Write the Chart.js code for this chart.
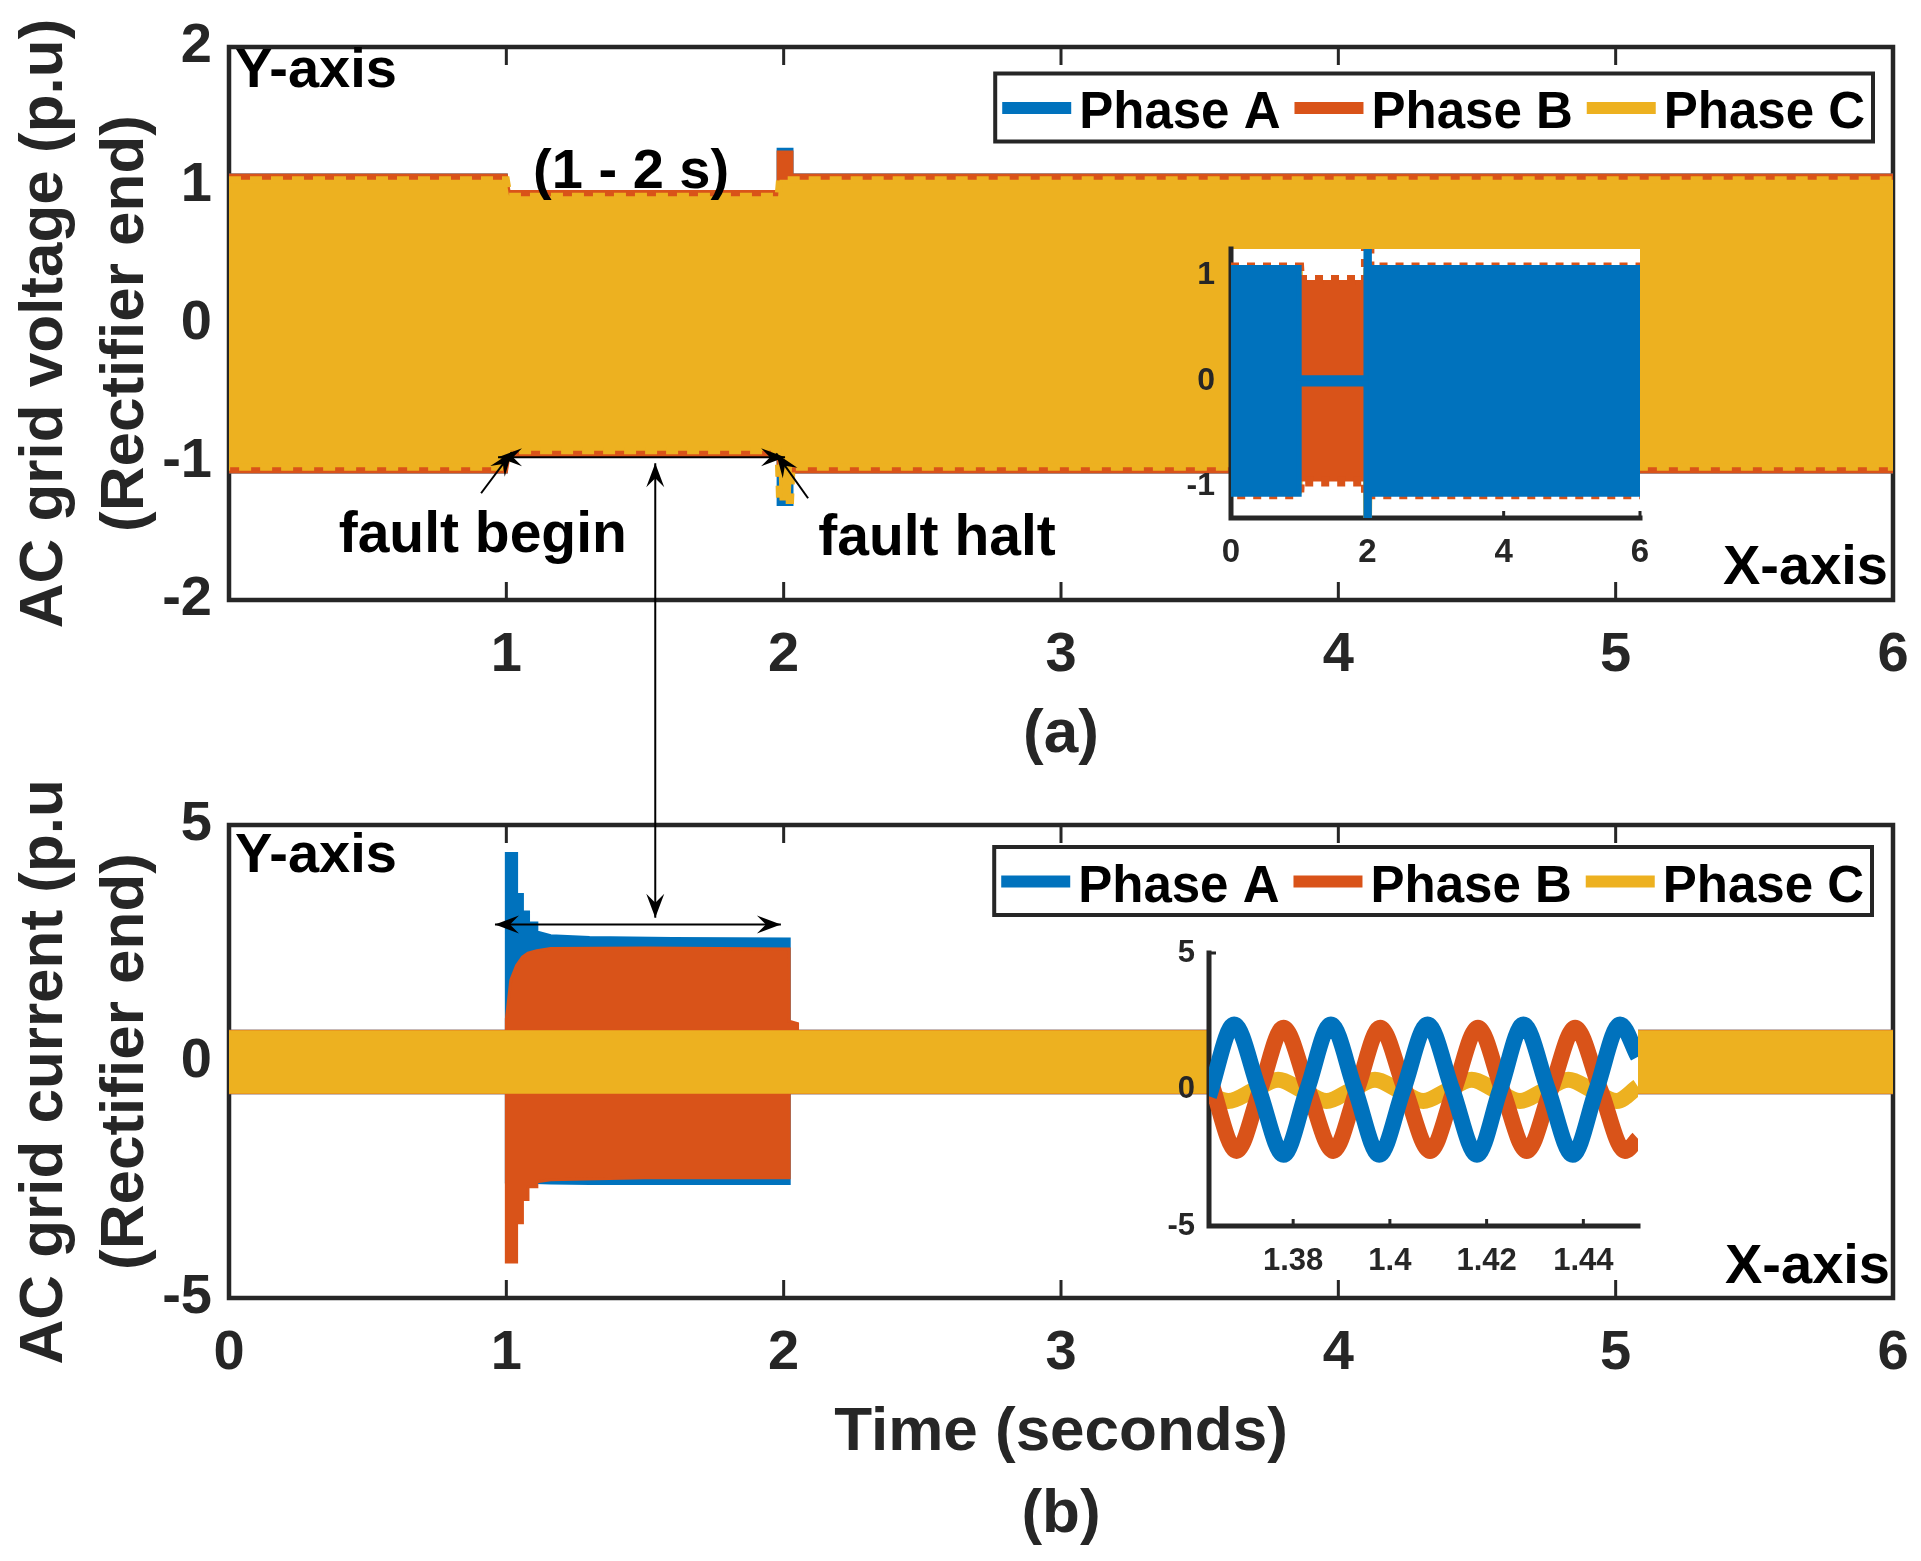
<!DOCTYPE html>
<html>
<head>
<meta charset="utf-8">
<title>AC grid voltage and current (rectifier end)</title>
<script src="https://cdn.jsdelivr.net/npm/chart.js@4.4.1/dist/chart.umd.min.js"></script>
<style>
  html, body { margin: 0; padding: 0; background: #fff; }
  #page { position: relative; width: 1921px; height: 1561px; overflow: hidden; background: #fff; }
  #page canvas { position: absolute; display: block; }
</style>
</head>
<body>
<div id="page">
  <canvas id="volt" width="1921" height="780" style="left:0;top:0"></canvas>
  <canvas id="curr" width="1921" height="781" style="left:0;top:780px"></canvas>
  <canvas id="voltInset" width="600" height="400" style="left:1100px;top:200px"></canvas>
  <canvas id="currInset" width="600" height="420" style="left:1100px;top:900px"></canvas>
</div>
<script>
const phaseNames = ["Phase A", "Phase B", "Phase C"];
const phaseColors = ["#0072BD", "#D95319", "#EDB120"];

// (a) voltage, p.u. : upper / lower edge of each 50 Hz band
const voltTimeA = [0, 1.0, 1.0, 1.98, 1.98, 2.03, 2.03, 6];
const voltUpA   = [1.075, 1.075, 0.03, 0.03, 1.26, 1.26, 1.075, 1.075];
const voltLowA  = [-1.075, -1.075, -0.03, -0.03, -1.31, -1.31, -1.075, -1.075];
const voltTimeB = [0, 1.0, 1.01, 1.98, 1.98, 2.03, 2.03, 6];
const voltUpB   = [1.075, 1.075, 0.955, 0.955, 1.24, 1.24, 1.075, 1.075];
const voltLowB  = [-1.075, -1.075, -0.955, -0.955, -1.1, -1.1, -1.075, -1.075];
const voltTimeC = [0, 1.0, 1.01, 1.98, 1.985, 2.025, 2.03, 6];
const voltUpC   = [1.04, 1.04, 0.92, 0.92, 1.04, 1.04, 1.04, 1.04];
const voltLowC  = [-1.04, -1.04, -0.92, -0.92, -1.28, -1.28, -1.04, -1.04];

// (b) current, p.u. : upper / lower edge of each band
const currTimeA = [0, 1.0, 1.0, 1.037, 1.037, 1.058, 1.058, 1.08, 1.08, 1.11, 1.11, 1.16, 1.3, 1.6, 2.02, 2.02, 6];
const currUpA   = [0.64, 0.64, 4.40, 4.40, 3.53, 3.53, 3.16, 3.16, 2.93, 2.93, 2.74, 2.66, 2.62, 2.60, 2.59, 0.64, 0.64];
const currLowA  = [-0.66, -0.66, -2.55, -2.55, -2.55, -2.55, -2.55, -2.55, -2.55, -2.55, -2.56, -2.57, -2.58, -2.58, -2.58, -0.66, -0.66];
const currTimeB = [0, 1.0, 1.0, 1.016, 1.037, 1.037, 1.058, 1.058, 1.078, 1.078, 1.11, 1.11, 1.16, 1.5, 2.02, 2.02, 2.05, 2.05, 6];
const currUpB   = [0.64, 0.64, 0.9, 1.72, 2.03, 2.03, 2.21, 2.21, 2.29, 2.29, 2.34, 2.34, 2.39, 2.40, 2.38, 0.85, 0.80, 0.64, 0.64];
const currLowB  = [-0.66, -0.66, -4.24, -4.24, -4.24, -3.41, -3.41, -2.92, -2.92, -2.65, -2.65, -2.54, -2.50, -2.46, -2.46, -0.66, -0.66, -0.66, -0.66];
const currTimeC = [0, 6];
const currUpC   = [0.63, 0.63];
const currLowC  = [-0.65, -0.65];

// (b) inset, 1.3626 - 1.4513 s : peaks, zero crossings and troughs
const zoomTimeA = [1.3626, 1.3678, 1.3729, 1.3780, 1.3829, 1.3878, 1.3928, 1.3978, 1.4028, 1.4078, 1.4129, 1.4180, 1.4228, 1.4276, 1.4327, 1.4378, 1.4427, 1.4476, 1.4513];
const zoomCurrA = [-0.25, 2.38, 0, -2.39, 0, 2.38, 0, -2.39, 0, 2.38, 0, -2.39, 0, 2.38, 0, -2.39, 0, 2.38, 1.2];
const zoomTimeB = [1.3626, 1.3683, 1.3732, 1.3780, 1.3831, 1.3883, 1.3932, 1.3980, 1.4031, 1.4083, 1.4133, 1.4182, 1.4232, 1.4283, 1.4333, 1.4383, 1.4435, 1.4486, 1.4513];
const zoomCurrB = [0.5, -2.25, 0, 2.26, 0, -2.25, 0, 2.26, 0, -2.25, 0, 2.26, 0, -2.25, 0, 2.26, 0, -2.25, -1.8];
const zoomTimeC = [1.3626, 1.3666, 1.3718, 1.3769, 1.3819, 1.3869, 1.3919, 1.3969, 1.4019, 1.4069, 1.4119, 1.4169, 1.4219, 1.4269, 1.4319, 1.4369, 1.4419, 1.4469, 1.4513];
const zoomCurrC = [-0.2, -0.42, -0.03, 0.36, -0.03, -0.42, -0.03, 0.36, -0.03, -0.42, -0.03, 0.36, -0.03, -0.42, -0.03, 0.36, -0.03, -0.42, 0.1];

// tick values
const voltXTicks = [1, 2, 3, 4, 5, 6];
const voltYTicks = [-2, -1, 0, 1, 2];
const currXTicks = [0, 1, 2, 3, 4, 5, 6];
const currYTicks = [-5, 0, 5];
const voltZoomXTicks = [0, 2, 4, 6];
const voltZoomYTicks = [-1, 0, 1];
const currZoomXTicks = [1.38, 1.4, 1.42, 1.44];
const currZoomYTicks = [-5, 0, 5];

const voltTitle = ["AC grid voltage (p.u)", "(Rectifier end)"];
const currTitle = ["AC grid current (p.u)", "(Rectifier end)"];

const FONT = "'Liberation Sans', Arial, Helvetica, sans-serif";
const INK = "#262626";
Chart.defaults.font.family = FONT;
Chart.defaults.animation = false;

const bold = (size, lineHeight = 1.2) => ({ family: FONT, size, weight: "bold", lineHeight });

// closed outline: upper edge left->right, lower edge right->left
function band(t, up, low) {
  const pts = t.map((x, i) => ({ x, y: up[i] }));
  for (let i = t.length - 1; i >= 0; i--) pts.push({ x: t[i], y: low[i] });
  return pts;
}

function bandSet(i, t, up, low, extra) {
  return Object.assign({
    label: phaseNames[i],
    data: band(t, up, low),
    backgroundColor: phaseColors[i],
    borderColor: phaseColors[i],
    borderWidth: 3,
    fill: "shape",
    pointRadius: 0,
    tension: 0
  }, extra);
}

function lineSet(i, t, v, extra) {
  return Object.assign({
    label: phaseNames[i],
    data: t.map((x, k) => ({ x, y: v[k] })),
    borderColor: phaseColors[i],
    backgroundColor: phaseColors[i],
    borderWidth: 16,
    fill: false,
    pointRadius: 0,
    cubicInterpolationMode: "monotone",
    borderCapStyle: "butt",
    borderJoinStyle: "round"
  }, extra);
}

function axis(o) {
  return {
    type: "linear",
    min: o.min,
    max: o.max,
    afterBuildTicks: s => { s.ticks = o.ticks.map(value => ({ value })); },
    afterFit: s => {
      if (s.isHorizontal()) s.height = o.size; else s.width = o.size;
      // labels may hang past the plot edges, as in MATLAB
      s.paddingLeft = s.paddingRight = s.paddingTop = s.paddingBottom = 0;
    },
    grid: { display: false, drawTicks: false },
    border: { display: false },
    ticks: {
      font: bold(o.font), color: INK, padding: o.pad,
      autoSkip: false, maxRotation: 0, minRotation: 0,
      callback: v => String(Number(Number(v).toFixed(2)))
    },
    title: o.title || { display: false }
  };
}

// axes box and inward ticks, drawn under the data like MATLAB
const framePlugin = {
  id: "frame",
  beforeDatasetsDraw(chart, args, o) {
    const { ctx, chartArea: a, scales: { x, y } } = chart;
    ctx.save();
    if (o.background) {
      ctx.fillStyle = o.background;
      ctx.fillRect(a.left, a.top, a.right - a.left, a.bottom - a.top);
    }
    ctx.strokeStyle = INK;
    ctx.lineWidth = o.width;
    ctx.lineCap = "square";
    ctx.beginPath();
    if (o.box) {
      ctx.rect(a.left, a.top, a.right - a.left, a.bottom - a.top);
    } else {
      ctx.moveTo(a.left, a.top);
      ctx.lineTo(a.left, a.bottom);
      ctx.lineTo(a.right, a.bottom);
    }
    ctx.stroke();
    ctx.lineCap = "butt";
    ctx.lineWidth = o.tickWidth;
    ctx.beginPath();
    x.ticks.forEach(t => {
      const px = x.getPixelForValue(t.value);
      ctx.moveTo(px, a.bottom); ctx.lineTo(px, a.bottom - o.tick);
      if (o.box) { ctx.moveTo(px, a.top); ctx.lineTo(px, a.top + o.tick); }
    });
    y.ticks.forEach(t => {
      const py = y.getPixelForValue(t.value);
      ctx.moveTo(a.left, py); ctx.lineTo(a.left + o.tick, py);
      if (o.box) { ctx.moveTo(a.right, py); ctx.lineTo(a.right - o.tick, py); }
    });
    ctx.stroke();
    ctx.restore();
  }
};

function text(ctx, str, x, y, size, align, color) {
  ctx.font = `bold ${size}px ${FONT}`;
  ctx.fillStyle = color || "#000";
  ctx.textAlign = align;
  ctx.textBaseline = "alphabetic";
  ctx.fillText(str, x, y);
}

function head(ctx, xf, yf, xt, yt) {
  const ang = Math.atan2(yt - yf, xt - xf), L = 24, W = 9, N = 15;
  const c = Math.cos(ang), s = Math.sin(ang);
  ctx.beginPath();
  ctx.moveTo(xt, yt);
  ctx.lineTo(xt - L * c - W * s, yt - L * s + W * c);
  ctx.lineTo(xt - N * c, yt - N * s);
  ctx.lineTo(xt - L * c + W * s, yt - L * s - W * c);
  ctx.closePath();
  ctx.fill();
}

function arrow(ctx, x0, y0, x1, y1, both) {
  ctx.save();
  ctx.strokeStyle = "#000";
  ctx.fillStyle = "#000";
  ctx.lineWidth = 2;
  ctx.beginPath();
  ctx.moveTo(x0, y0);
  ctx.lineTo(x1, y1);
  ctx.stroke();
  head(ctx, x0, y0, x1, y1);
  if (both) head(ctx, x1, y1, x0, y0);
  ctx.restore();
}

// two-line rotated y title (wider than the plot, so drawn here, not by the scale)
function sideTitle(chart, lines) {
  const { ctx, chartArea: a } = chart;
  ctx.save();
  ctx.translate(0, (a.top + a.bottom) / 2);
  ctx.rotate(-Math.PI / 2);
  ctx.font = `bold 62px ${FONT}`;
  ctx.fillStyle = INK;
  ctx.textAlign = "center";
  ctx.textBaseline = "alphabetic";
  ctx.fillText(lines[0], 0, 62);
  ctx.fillText(lines[1], 0, 143);
  ctx.restore();
}

// boxed horizontal legend in the upper right corner of the axes
function boxLegend(chart, topOff, rightOff) {
  const { ctx, chartArea: a } = chart;
  ctx.save();
  ctx.font = `bold 51px ${FONT}`;
  const lineLen = 69, gapLine = 8, gapText = 14, padL = 7, padR = 8, h = 68;
  const widths = phaseNames.map(n => ctx.measureText(n).width);
  const w = padL + widths.reduce((s, tw) => s + lineLen + gapLine + tw, 0) + gapText * (phaseNames.length - 1) + padR;
  const right = a.right - rightOff, left = right - w, top = a.top + topOff;
  ctx.fillStyle = "#fff";
  ctx.fillRect(left, top, w, h);
  ctx.strokeStyle = INK;
  ctx.lineWidth = 4;
  ctx.strokeRect(left, top, w, h);
  let x = left + padL;
  phaseNames.forEach((n, i) => {
    ctx.fillStyle = phaseColors[i];
    ctx.fillRect(x, top + 28.5, lineLen, 12);
    x += lineLen + gapLine;
    ctx.fillStyle = "#000";
    ctx.textAlign = "left";
    ctx.textBaseline = "alphabetic";
    ctx.fillText(n, x, top + 54.5);
    x += widths[i] + gapText;
  });
  ctx.restore();
}

const voltNotes = {
  id: "voltNotes",
  afterDraw(chart) {
    const { ctx, chartArea: a, scales: { x, y } } = chart;
    const X = v => x.getPixelForValue(v), Y = v => y.getPixelForValue(v);
    sideTitle(chart, voltTitle);
    boxLegend(chart, 26.5, 20);
    text(ctx, "Y-axis", a.left + 6, a.top + 40, 56, "left");
    text(ctx, "X-axis", a.right - 5, a.bottom - 16, 56, "right");
    text(ctx, "(1 - 2 s)", X(1.45), Y(0.98), 56, "center");
    text(ctx, "fault begin", X(0.915), Y(-1.656), 57, "center");
    text(ctx, "fault halt", X(2.553), Y(-1.677), 57, "center");
    arrow(ctx, X(0.97), Y(-0.967), X(2.005), Y(-0.967), true);
    arrow(ctx, X(0.909), Y(-1.228), X(1.02), Y(-0.93));
    arrow(ctx, X(2.088), Y(-1.264), X(1.973), Y(-0.94));
    arrow(ctx, X(1.537), chart.height, X(1.537), Y(-1.01));
  }
};

const currNotes = {
  id: "currNotes",
  afterDraw(chart) {
    const { ctx, chartArea: a, scales: { x, y } } = chart;
    const X = v => x.getPixelForValue(v), Y = v => y.getPixelForValue(v);
    sideTitle(chart, currTitle);
    boxLegend(chart, 22, 21);
    text(ctx, "Y-axis", a.left + 6, a.top + 47, 56, "left");
    text(ctx, "X-axis", a.right - 3, a.bottom - 15, 56, "right");
    arrow(ctx, X(0.959), Y(2.894), X(1.99), Y(2.894), true);
    arrow(ctx, X(1.537), 0, X(1.537), Y(3.04));
  }
};

const quiet = { legend: { display: false }, tooltip: { enabled: false } };

// (a) voltage
new Chart(document.getElementById("volt"), {
  type: "line",
  data: {
    datasets: [
      bandSet(0, voltTimeA, voltUpA, voltLowA, { order: 3 }),
      bandSet(1, voltTimeB, voltUpB, voltLowB, { order: 2 }),
      bandSet(2, voltTimeC, voltUpC, voltLowC, { order: 1, borderWidth: 7, borderDash: [12, 9] })
    ]
  },
  options: {
    responsive: false,
    events: [],
    layout: { padding: { left: 0, top: 47, right: 28, bottom: 0 } },
    scales: {
      x: axis({ min: 0, max: 6, ticks: voltXTicks, size: 180, font: 56, pad: 22,
        title: { display: true, text: "(a)", color: INK, font: bold(62, 1.32), padding: { top: 0, bottom: 4 } } }),
      y: axis({ min: -2, max: 2, ticks: voltYTicks, size: 229, font: 56, pad: 17 })
    },
    plugins: Object.assign({ frame: { box: true, width: 4.5, tick: 18, tickWidth: 3 } }, quiet)
  },
  plugins: [framePlugin, voltNotes]
});

// (b) current
new Chart(document.getElementById("curr"), {
  type: "line",
  data: {
    datasets: [
      bandSet(0, currTimeA, currUpA, currLowA, { order: 3 }),
      bandSet(1, currTimeB, currUpB, currLowB, { order: 2 }),
      bandSet(2, currTimeC, currUpC, currLowC, { order: 1 })
    ]
  },
  options: {
    responsive: false,
    events: [],
    layout: { padding: { left: 0, top: 45, right: 28, bottom: 0 } },
    scales: {
      x: axis({ min: 0, max: 6, ticks: currXTicks, size: 263, font: 56, pad: 22,
        title: { display: true, text: ["Time (seconds)", "(b)"], color: INK, font: bold(62, 1.32), padding: { top: 0, bottom: 5 } } }),
      y: axis({ min: -5, max: 5, ticks: currYTicks, size: 229, font: 56, pad: 17 })
    },
    plugins: Object.assign({ frame: { box: true, width: 4.5, tick: 18, tickWidth: 3 } }, quiet)
  },
  plugins: [framePlugin, currNotes]
});

// (a) inset: whole run, phase A on top
new Chart(document.getElementById("voltInset"), {
  type: "line",
  data: {
    datasets: [
      bandSet(0, voltTimeA, voltUpA, voltLowA, { order: 1, borderWidth: 5 }),
      bandSet(1, voltTimeB, voltUpB, voltLowB, { order: 2, borderWidth: 10, borderDash: [8, 8] }),
      bandSet(2, voltTimeC, voltUpC, voltLowC, { order: 3, borderWidth: 6 })
    ]
  },
  options: {
    responsive: false,
    events: [],
    layout: { padding: { left: 0, top: 49, right: 60, bottom: 0 } },
    scales: {
      x: axis({ min: 0, max: 6, ticks: voltZoomXTicks, size: 82, font: 33, pad: 15 }),
      y: axis({ min: -1.3, max: 1.25, ticks: voltZoomYTicks, size: 131, font: 32, pad: 16 })
    },
    plugins: Object.assign({ frame: { box: false, background: "#fff", width: 5, tick: 7, tickWidth: 3 } }, quiet)
  },
  plugins: [framePlugin]
});

// (b) inset: zoom on the fault currents
new Chart(document.getElementById("currInset"), {
  type: "line",
  data: {
    datasets: [
      lineSet(0, zoomTimeA, zoomCurrA, { order: 1 }),
      lineSet(1, zoomTimeB, zoomCurrB, { order: 2 }),
      lineSet(2, zoomTimeC, zoomCurrC, { order: 3 })
    ]
  },
  options: {
    responsive: false,
    events: [],
    layout: { padding: { left: 0, top: 53, right: 62, bottom: 0 } },
    scales: {
      x: axis({ min: 1.3626, max: 1.4513, ticks: currZoomXTicks, size: 94, font: 31, pad: 17 }),
      y: axis({ min: -5, max: 5, ticks: currZoomYTicks, size: 109, font: 31, pad: 14 })
    },
    plugins: Object.assign({ frame: { box: false, background: "#fff", width: 5, tick: 7, tickWidth: 3 } }, quiet)
  },
  plugins: [framePlugin]
});
</script>
</body>
</html>
